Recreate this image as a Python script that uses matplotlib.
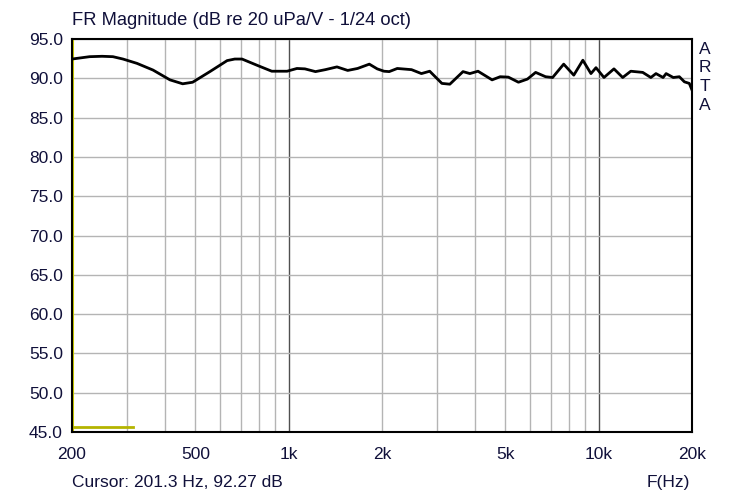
import numpy as np
import matplotlib
matplotlib.use('Agg')
import matplotlib.pyplot as plt

# --- data ---
freq_hz = [200, 228, 250, 271, 292, 324, 365, 414, 455, 490, 557, 633, 670, 707, 797,
           882, 988, 1063, 1128, 1220, 1313, 1431, 1550, 1668, 1820, 1930, 2030, 2110,
           2240, 2490, 2680, 2850, 3120, 3310, 3650, 3840, 4080, 4530, 4810, 5110, 5510,
           5890, 6260, 6740, 7100, 7710, 8310, 8890, 9440, 9800, 10400, 11200, 11950,
           12690, 13870, 14730, 15300, 16130, 16500, 17400, 18200, 18900, 19600, 20000]
mag_db = [92.45, 92.75, 92.8, 92.75, 92.45, 91.9, 91.05, 89.8, 89.3, 89.5, 90.85, 92.25,
          92.45, 92.45, 91.6, 90.9, 90.9, 91.25, 91.2, 90.85, 91.1, 91.45, 91.0, 91.25,
          91.8, 91.2, 90.9, 90.85, 91.25, 91.1, 90.6, 90.9, 89.35, 89.25, 90.85, 90.6,
          90.9, 89.8, 90.2, 90.15, 89.5, 89.9, 90.75, 90.2, 90.1, 91.8, 90.4, 92.3, 90.6,
          91.35, 90.1, 91.2, 90.1, 90.9, 90.75, 90.1, 90.6, 90.1, 90.6, 90.1, 90.2, 89.55,
          89.35, 88.5]

x_ticks = [200, 500, 1000, 2000, 5000, 10000, 20000]
x_labels = ['200', '500', '1k', '2k', '5k', '10k', '20k']
grid_minor = [300, 400, 600, 700, 800, 900, 3000, 4000, 6000, 7000, 8000, 9000, 500, 2000, 5000]
grid_decade = [1000, 10000]
y_ticks = np.arange(45, 96, 5)

cursor_f = 201.3
cursor_db = 92.27

txt_col = '#10103a'
fs = 12.5

plt.rcParams['font.family'] = ['Liberation Sans', 'DejaVu Sans']
fig = plt.figure(figsize=(7.5, 4.98), dpi=100)
ax = fig.add_axes([0.096, 0.1325, 0.8267, 0.7892])

ax.set_xscale('log')
ax.set_xlim(200, 20000)
ax.set_ylim(45, 95)

# grid
for f in grid_minor:
    ax.axvline(f, color='#b4b4b4', lw=1, zorder=1)
for f in grid_decade:
    ax.axvline(f, color='#505050', lw=1, zorder=1)
for y in y_ticks:
    ax.axhline(y, color='#b4b4b4', lw=1, zorder=1)

# cursor marks
ax.axvline(cursor_f, color='#c8c800', lw=1.5, zorder=2)
ax.plot([200, 315], [45.6, 45.6], color='#b4b400', lw=2, zorder=2)

ax.plot(freq_hz, mag_db, color='black', lw=2, zorder=3)

ax.set_xticks(x_ticks)
ax.set_xticklabels(x_labels)
ax.xaxis.set_minor_locator(matplotlib.ticker.NullLocator())
ax.set_yticks(y_ticks)
ax.set_yticklabels([f'{v:.1f}' for v in y_ticks])
ax.tick_params(length=0, labelsize=fs, colors=txt_col)
ax.tick_params(axis='x', pad=10.5)
ax.tick_params(axis='y', pad=6.5)
for s in ax.spines.values():
    s.set_linewidth(1.5)
    s.set_color('black')

fig.text(72 / 750, 1 - 20 / 498, 'FR Magnitude (dB re 20 uPa/V - 1/24 oct)',
         fontsize=13.2, ha='left', va='center', color=txt_col)
fig.text(72 / 750, 1 - 482 / 498, 'Cursor: 201.3 Hz, 92.27 dB',
         fontsize=fs, ha='left', va='center', color=txt_col)
fig.text(690 / 750, 1 - 482 / 498, 'F(Hz)', fontsize=fs, ha='right', va='center', color=txt_col)
for i, ch in enumerate('ARTA'):
    fig.text(705 / 750, 1 - (49 + i * 18.7) / 498, ch, fontsize=fs,
             ha='center', va='center', color=txt_col)

fig.savefig('out.png', dpi=100)
